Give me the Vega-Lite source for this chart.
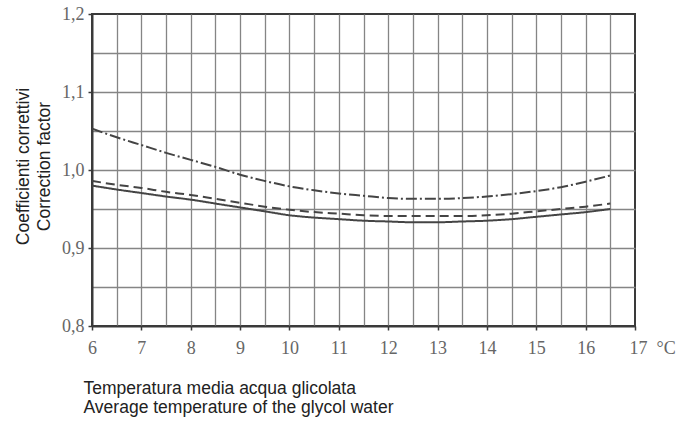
{
  "$schema": "https://vega.github.io/schema/vega-lite/v6.json",
  "width": 543,
  "height": 312,
  "autosize": {"type": "none"},
  "padding": {"left": 92, "top": 14, "right": 42, "bottom": 95},
  "background": "white",
  "config": {"view": {"stroke": "#3a3a3a", "strokeWidth": 2}},
  "data": {"values": [
    {"s": "A", "t": 6, "v": 1.053}, {"s": "A", "t": 6.5, "v": 1.042}, {"s": "A", "t": 7, "v": 1.032}, {"s": "A", "t": 7.5, "v": 1.022},
    {"s": "A", "t": 8, "v": 1.013}, {"s": "A", "t": 8.5, "v": 1.004}, {"s": "A", "t": 9, "v": 0.994}, {"s": "A", "t": 9.5, "v": 0.986},
    {"s": "A", "t": 10, "v": 0.979}, {"s": "A", "t": 10.5, "v": 0.974}, {"s": "A", "t": 11, "v": 0.970}, {"s": "A", "t": 11.5, "v": 0.967},
    {"s": "A", "t": 12, "v": 0.964}, {"s": "A", "t": 12.5, "v": 0.963}, {"s": "A", "t": 13, "v": 0.963}, {"s": "A", "t": 13.5, "v": 0.964},
    {"s": "A", "t": 14, "v": 0.966}, {"s": "A", "t": 14.5, "v": 0.969}, {"s": "A", "t": 15, "v": 0.973}, {"s": "A", "t": 15.5, "v": 0.978},
    {"s": "A", "t": 16, "v": 0.985}, {"s": "A", "t": 16.5, "v": 0.993},
    {"s": "B", "t": 6, "v": 0.986}, {"s": "B", "t": 6.5, "v": 0.981}, {"s": "B", "t": 7, "v": 0.977}, {"s": "B", "t": 7.5, "v": 0.972},
    {"s": "B", "t": 8, "v": 0.968}, {"s": "B", "t": 8.5, "v": 0.963}, {"s": "B", "t": 9, "v": 0.958}, {"s": "B", "t": 9.5, "v": 0.953},
    {"s": "B", "t": 10, "v": 0.949}, {"s": "B", "t": 10.5, "v": 0.946}, {"s": "B", "t": 11, "v": 0.944}, {"s": "B", "t": 11.5, "v": 0.942},
    {"s": "B", "t": 12, "v": 0.941}, {"s": "B", "t": 12.5, "v": 0.941}, {"s": "B", "t": 13, "v": 0.941}, {"s": "B", "t": 13.5, "v": 0.941},
    {"s": "B", "t": 14, "v": 0.942}, {"s": "B", "t": 14.5, "v": 0.944}, {"s": "B", "t": 15, "v": 0.947}, {"s": "B", "t": 15.5, "v": 0.950},
    {"s": "B", "t": 16, "v": 0.953}, {"s": "B", "t": 16.5, "v": 0.957},
    {"s": "C", "t": 6, "v": 0.980}, {"s": "C", "t": 6.5, "v": 0.975}, {"s": "C", "t": 7, "v": 0.9705}, {"s": "C", "t": 7.5, "v": 0.966},
    {"s": "C", "t": 8, "v": 0.962}, {"s": "C", "t": 8.5, "v": 0.957}, {"s": "C", "t": 9, "v": 0.952}, {"s": "C", "t": 9.5, "v": 0.947},
    {"s": "C", "t": 10, "v": 0.942}, {"s": "C", "t": 10.5, "v": 0.939}, {"s": "C", "t": 11, "v": 0.937}, {"s": "C", "t": 11.5, "v": 0.935},
    {"s": "C", "t": 12, "v": 0.934}, {"s": "C", "t": 12.5, "v": 0.933}, {"s": "C", "t": 13, "v": 0.933}, {"s": "C", "t": 13.5, "v": 0.934},
    {"s": "C", "t": 14, "v": 0.935}, {"s": "C", "t": 14.5, "v": 0.937}, {"s": "C", "t": 15, "v": 0.940}, {"s": "C", "t": 15.5, "v": 0.943},
    {"s": "C", "t": 16, "v": 0.946}, {"s": "C", "t": 16.5, "v": 0.950}
  ]},
  "mark": {"type": "line", "color": "#444444", "strokeWidth": 2, "interpolate": "monotone"},
  "encoding": {
    "x": {
      "field": "t", "type": "quantitative",
      "scale": {"domain": [6, 17], "nice": false, "zero": false},
      "axis": {
        "values": [6, 6.5, 7, 7.5, 8, 8.5, 9, 9.5, 10, 10.5, 11, 11.5, 12, 12.5, 13, 13.5, 14, 14.5, 15, 15.5, 16, 16.5, 17],
        "grid": true, "gridColor": "#858585", "gridWidth": 1.3,
        "gridOpacity": {"condition": {"test": "datum.value >= 17 || datum.value <= 6", "value": 0}, "value": 1},
        "domain": true, "domainColor": "#3a3a3a", "domainWidth": 2,
        "ticks": true, "tickSize": 4, "tickColor": "#3a3a3a", "tickWidth": 1.5,
        "tickOpacity": {"condition": {"test": "datum.value % 1 != 0", "value": 0}, "value": 1},
        "labelExpr": "datum.value % 1 != 0 ? '' : (datum.value == 17 ? '17\u00a0\u00a0°C' : format(datum.value, 'd'))",
        "labelAlign": {"condition": {"test": "datum.value == 17", "value": "left"}, "value": "center"},
        "labelOffset": {"condition": {"test": "datum.value == 17", "value": -6}, "value": 0},
        "labelFont": "Liberation Serif", "labelFontSize": 18, "labelColor": "#666666",
        "labelBaseline": "alphabetic", "labelPadding": 23,
        "labelFlush": false, "labelOverlap": false,
        "title": ["Temperatura media acqua glicolata", "Average temperature of the glycol water"],
        "titleFont": "Liberation Sans", "titleFontSize": 17.5, "titleFontWeight": "normal", "titleColor": "#222222",
        "titleX": -9, "titleY": 67, "titleAlign": "left", "titleBaseline": "alphabetic", "titleLineHeight": 19.5
      }
    },
    "y": {
      "field": "v", "type": "quantitative",
      "scale": {"domain": [0.8, 1.2], "nice": false, "zero": false},
      "axis": {
        "values": [0.8, 0.85, 0.9, 0.95, 1.0, 1.05, 1.1, 1.15, 1.2],
        "grid": true, "gridColor": "#858585", "gridWidth": 1.3,
        "gridOpacity": {"condition": {"test": "datum.value >= 1.199 || datum.value <= 0.801", "value": 0}, "value": 1},
        "domain": true, "domainColor": "#3a3a3a", "domainWidth": 2,
        "ticks": true, "tickSize": 4, "tickColor": "#3a3a3a", "tickWidth": 1.5,
        "tickOpacity": {"condition": {"test": "abs(datum.value*10 - round(datum.value*10)) > 0.01", "value": 0}, "value": 1},
        "labelExpr": "abs(datum.value*10 - round(datum.value*10)) > 0.01 ? '' : replace(format(datum.value, '.1f'), '.', ',')",
        "labelFont": "Liberation Serif", "labelFontSize": 18, "labelColor": "#666666",
        "labelBaseline": "middle", "labelPadding": 4,
        "labelFlush": false, "labelOverlap": false,
        "title": ["Coefficienti correttivi", "Correction factor"],
        "titleFont": "Liberation Sans", "titleFontSize": 17.5, "titleFontWeight": "normal", "titleColor": "#222222",
        "titleX": -64, "titleY": 152, "titleAlign": "center", "titleBaseline": "alphabetic", "titleAngle": 270, "titleLineHeight": 21
      }
    },
    "strokeDash": {
      "field": "s", "type": "nominal",
      "scale": {"domain": ["A", "B", "C"], "range": [[11, 3, 2, 3], [9, 5], [1, 0]]},
      "legend": null
    }
  }
}
